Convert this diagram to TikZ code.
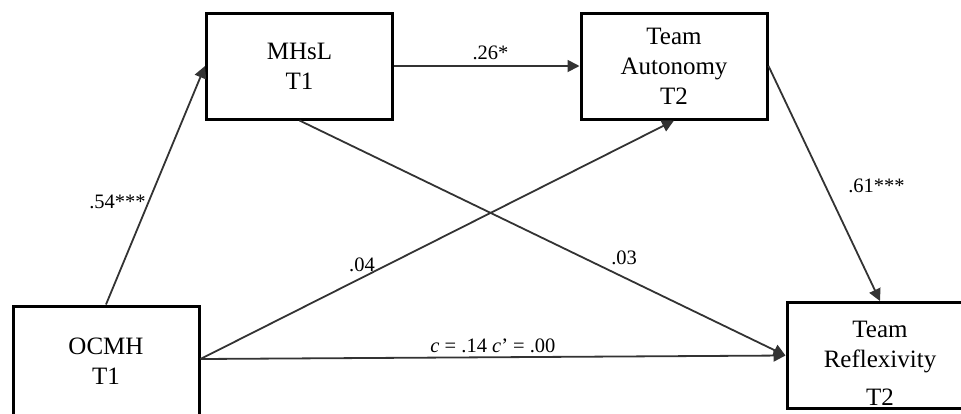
\documentclass[tikz,border=0pt]{standalone}
\usepackage{fontspec}
\setmainfont{Liberation Serif}
\usetikzlibrary{arrows.meta}
\tikzset{
  boxnode/.style={draw=black, line width=3pt, fill=white, minimum width=186pt,
    minimum height=106pt, inner sep=0pt, align=center,
    font=\fontsize{25}{30}\selectfont},
  conn/.style={draw=black!80, line width=1.8pt, -{Triangle[length=12pt,width=12pt]}},
  lab/.style={inner sep=0pt, font=\fontsize{20.5}{24}\selectfont, text=black},
}
\begin{document}
\begin{tikzpicture}[x=1pt,y=-1pt]
\useasboundingbox (0,0) rectangle (961,413);
\clip (0,0) rectangle (961,413);
\node[boxnode] (mhsl) at (299.5,66) {MHsL\\T1};
\node[boxnode] (ta) at (674,66) {Team\\Autonomy\\T2};
\node[boxnode, minimum height=110pt] (ocmh) at (106,361) {OCMH\\T1};
\node[boxnode, label={[align=center, font=\fontsize{25}{30}\selectfont, yshift=-8pt]center:{Team\\Reflexivity\\[8pt]T2}}] (tr) at (880,355.5) {};
\draw[conn] (ocmh.north) -- node[lab, pos=0.43, anchor=east, xshift=-2pt]{.54***} (mhsl.west);
\draw[conn] (mhsl.east) -- node[lab, pos=0.52, anchor=south, yshift=5pt]{.26*} (ta.west);
\draw[conn] ([yshift=2pt]ocmh.east) -- node[lab, pos=0.341, anchor=south, yshift=5pt]{.04} (ta.south);
\draw[conn] (mhsl.south) -- node[lab, pos=0.668, anchor=south, yshift=12pt]{.03} (tr.west);
\draw[conn] (ta.east) -- node[lab, pos=0.51, anchor=west, xshift=22pt]{.61***} (tr.north);
\draw[conn] ([yshift=2pt]ocmh.east) -- node[lab, pos=0.5, anchor=south, yshift=4pt]{\textit{c} = .14 \textit{c}’ = .00} (tr.west);
\end{tikzpicture}
\end{document}
